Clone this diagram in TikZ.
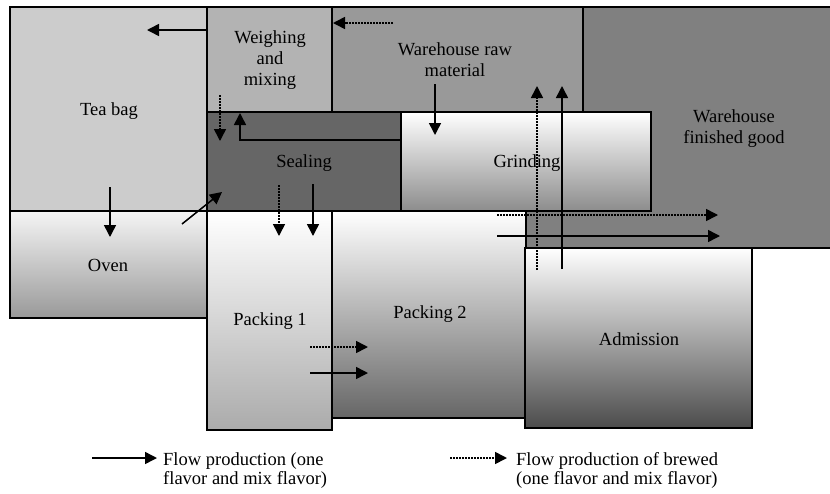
\documentclass[tikz,border=0pt]{standalone}
\usepackage{fontspec}
\setmainfont{Liberation Serif}
\usetikzlibrary{arrows.meta}
\definecolor{blktea}{RGB}{204,204,204}
\definecolor{blkweigh}{RGB}{179,179,179}
\definecolor{blkraw}{RGB}{153,153,153}
\definecolor{blkfin}{RGB}{128,128,128}
\definecolor{blkseal}{RGB}{102,102,102}

\begin{document}
\begin{tikzpicture}[x=1pt,y=-1pt,font=\fontsize{18.5}{21}\selectfont,
  >={Triangle[length=12pt,width=12pt]},
  area/.style={draw,line width=1.4pt},
  lbl/.style={inner sep=0pt,anchor=north,align=center},
  fl/.style={->,line width=1.5pt},
  br/.style={->,line width=1.6pt,dash pattern=on 2pt off 1pt}]
  \useasboundingbox (0,0) rectangle (830,493);
  % areas of the plant
  \path[area,fill=blktea] (10,7) rectangle (207,211);
  \path[area,fill=blkweigh] (207,7) rectangle (332,112);
  \path[area,fill=blkfin] (525,7) rectangle (845,248);
  \path[area,fill=blkraw] (332,7) rectangle (583,112);
  \path[area,fill=blkseal] (207,112) rectangle (401,211);
  \path[area,top color=white,bottom color=black!45] (401,112) rectangle (651,211);
  \path[area,top color=white!96!black,bottom color=black!40] (10,211) rectangle (207,318);
  \path[area,top color=white,bottom color=black!60] (332,211) rectangle (526,418);
  \path[area,top color=white,bottom color=black!33] (207,211) rectangle (332,430);
  \path[area,top color=white,bottom color=black!70] (525,248) rectangle (752,428);
  % labels
  \node[lbl] (teabag) at (109,102) {Tea bag};
  \node[lbl] (weigh) at (270,30) {Weighing\\and\\mixing};
  \node[lbl] (raw) at (455,42) {Warehouse raw\\material};
  \node[lbl] (seal) at (304,154) {Sealing};
  \node[lbl] (grind) at (527,154) {Grinding};
  \node[lbl] (fin) at (734,109) {Warehouse\\finished good};
  \node[lbl] (oven) at (108,259) {Oven};
  \node[lbl] (pack1) at (270,312) {Packing 1};
  \node[lbl] (pack2) at (430,305) {Packing 2};
  \node[lbl] (adm) at (639,332) {Admission};
  % flow ends
  \coordinate (wt0) at (207,30);   \coordinate (wt1) at (147,30);
  \coordinate (rw0) at (393,23);   \coordinate (rw1) at (333,23);
  \coordinate (ws0) at (220,95);   \coordinate (ws1) at (220,141);
  \coordinate (gw0) at (401,140);  \coordinate (gw1) at (240,113);
  \coordinate (rg0) at (435,84);   \coordinate (rg1) at (435,135);
  \coordinate (au0) at (537,270);  \coordinate (au1) at (537,86);
  \coordinate (as0) at (562,269);  \coordinate (as1) at (562,86);
  \coordinate (pf0) at (497,215);  \coordinate (pf1) at (718,215);
  \coordinate (ps0) at (497,236);  \coordinate (ps1) at (720,236);
  \coordinate (to0) at (110,187);  \coordinate (to1) at (110,237);
  \coordinate (os0) at (182,224);  \coordinate (os1) at (222,192);
  \coordinate (sp0) at (279,185);  \coordinate (sp1) at (279,236);
  \coordinate (sq0) at (313,184);  \coordinate (sq1) at (313,236);
  \coordinate (pp0) at (310,347);  \coordinate (pp1) at (368,347);
  \coordinate (pq0) at (310,373);  \coordinate (pq1) at (368,373);
  \draw[fl] (wt0) -- (wt1);
  \draw[br] (rw0) -- (rw1);
  \draw[br] (ws0) -- (ws1);
  \draw[fl] (gw0) -| (gw1);
  \draw[fl] (rg0) -- (rg1);
  \draw[br] (au0) -- (au1);
  \draw[fl] (as0) -- (as1);
  \draw[br] (pf0) -- (pf1);
  \draw[fl] (ps0) -- (ps1);
  \draw[fl] (to0) -- (to1);
  \draw[fl] (os0) -- (os1);
  \draw[br] (sp0) -- (sp1);
  \draw[fl] (sq0) -- (sq1);
  \draw[br] (pp0) -- (pp1);
  \draw[fl] (pq0) -- (pq1);
  % legend
  \coordinate (lg0) at (92,458);   \coordinate (lg1) at (157,458);
  \coordinate (lb0) at (450,458);  \coordinate (lb1) at (507,458);
  \draw[fl] (lg0) -- (lg1);
  \draw[br] (lb0) -- (lb1);
  \node[lbl,anchor=north west,align=left,font=\fontsize{18.5}{19}\selectfont]
    (keyflow) at (163,452) {Flow production (one\\flavor and mix flavor)};
  \node[lbl,anchor=north west,align=left,font=\fontsize{18.5}{19}\selectfont]
    (keybrew) at (516,452) {Flow production of brewed\\(one flavor and mix flavor)};
\end{tikzpicture}
\end{document}
